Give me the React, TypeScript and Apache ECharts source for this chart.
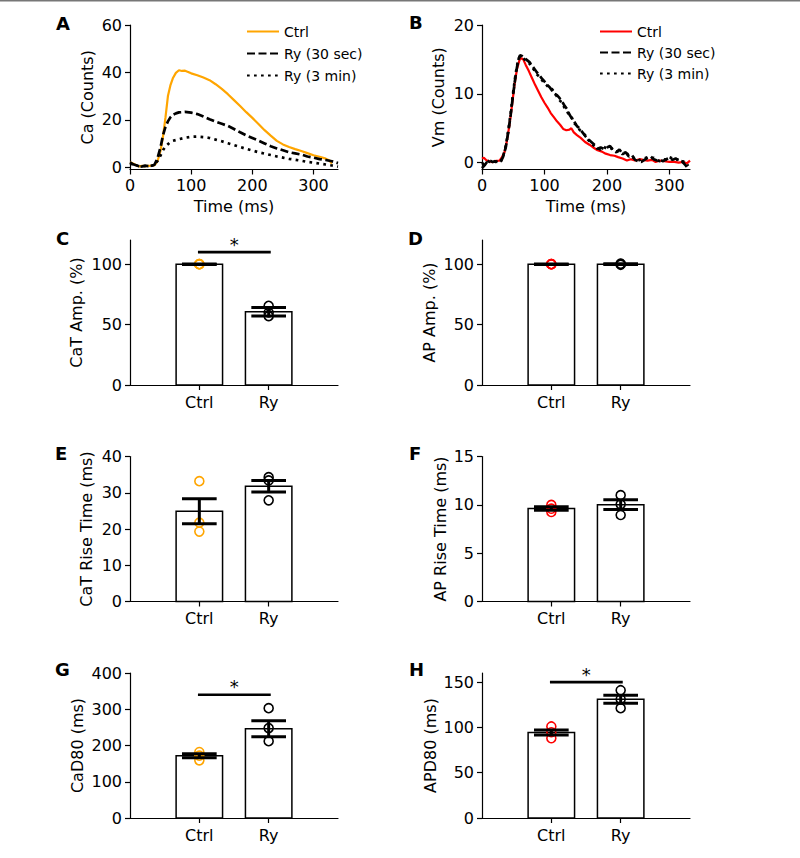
import React, { useEffect, useRef } from 'react';
import * as echarts from 'echarts';

const FONT = 'DejaVu Sans';
const ORANGE = '#FFA500';
const RED = '#FF0000';

// ---------- Trace data (time ms, counts) ----------
const traceTicks = [0, 100, 200, 300];
const caYTicks = [0, 20, 40, 60];
const vmYTicks = [0, 10, 20];

const caCtrl = [[0,2.0],[5,1.5],[10,0.8],[15,0.3],[20,0.5],[25,0.4],[30,0.5],[35,0.6],[40,0.8],[45,2.5],[50,7],[54,13],[58,21],[62,30],[66,34.5],[70,37.5],[75,39.8],[80,40.9],[85,40.6],[90,40.7],[95,40.2],[100,39.6],[110,38.8],[120,37.8],[130,36.7],[140,35],[150,33],[160,30.8],[170,28.3],[180,25.8],[190,23.2],[200,20.8],[210,18.2],[220,15.6],[230,13.3],[240,11.1],[250,9.6],[260,8.5],[270,7.6],[280,6.8],[290,5.9],[300,5.0],[310,4.4],[320,3.6],[326,2.8],[330,1.5]];
const caRy30 = [[0,2.0],[5,1.2],[10,0.8],[15,0.2],[20,0.3],[25,0.6],[30,0.4],[35,0.5],[40,1.0],[45,3.8],[50,8.5],[54,13.5],[58,17],[62,19.3],[66,21],[70,22.1],[75,22.7],[80,23.1],[90,23.3],[100,23],[110,22.4],[120,21.4],[130,20.2],[140,19.2],[150,18.3],[160,17.4],[170,16.1],[180,14.7],[190,13.4],[200,12.3],[210,11.2],[220,10],[230,8.8],[240,7.9],[250,7.1],[260,6.3],[270,5.8],[280,5.3],[290,4.5],[300,4.0],[310,3.4],[320,3.0],[330,2.5],[340,1.7]];
const caRy3 = [[0,1.5],[5,1.2],[10,0.8],[15,0.4],[20,0.3],[25,0.5],[30,0.4],[35,0.6],[40,1.0],[45,2.6],[50,5],[55,7.6],[60,9.2],[65,10.4],[70,11.1],[80,11.8],[90,12.4],[100,12.8],[110,12.9],[120,12.7],[130,12.3],[140,11.6],[150,10.9],[160,10.1],[170,9.3],[180,8.5],[190,7.7],[200,7.0],[210,6.3],[220,5.7],[230,5.1],[240,4.5],[250,4.0],[260,3.5],[270,3.1],[280,2.7],[290,2.2],[300,1.9],[310,1.5],[320,1.1],[330,0.7],[340,0.2]];

const vmCtrl = [[0,0.6],[3,0.7],[7,0.35],[12,0.2],[17,0.05],[22,0.25],[28,0.3],[32,0.8],[36,1.5],[40,3.2],[44,5.5],[48,8.3],[52,11.3],[56,13.6],[60,14.9],[63,15.2],[66,15.0],[70,14.2],[75,13.3],[80,12.3],[85,11.3],[90,10.4],[95,9.5],[100,8.7],[105,8.0],[110,7.2],[115,6.6],[120,6.0],[125,5.5],[130,4.9],[135,4.7],[140,4.8],[143,5.0],[147,4.4],[152,4.0],[158,3.6],[165,3.0],[172,2.6],[178,2.2],[185,1.8],[192,1.6],[198,1.3],[205,1.1],[212,1.0],[218,0.8],[225,0.6],[232,0.3],[238,0.5],[245,0.3],[252,0.5],[258,0.4],[265,0.3],[272,0.4],[278,0.1],[285,0.3],[292,0.2],[300,0.1],[308,0.1],[315,0.0],[322,0.1],[328,-0.1],[333,0.3]];
const vmRy30 = [[0,-0.8],[4,-0.4],[8,0.1],[12,0.3],[17,0.1],[22,0.2],[27,0.0],[30,0.1],[34,0.9],[38,2.2],[42,4.4],[46,7.0],[50,10.0],[54,12.8],[58,14.9],[61,15.6],[64,15.5],[68,15.2],[72,14.9],[76,14.6],[80,14.1],[84,13.6],[88,13.1],[92,12.7],[96,12.2],[100,11.8],[104,11.3],[108,11.0],[112,10.5],[116,10.0],[120,9.8],[124,9.4],[128,8.9],[132,8.3],[136,7.8],[140,7.0],[144,6.4],[148,5.9],[152,5.3],[156,5.0],[160,4.5],[165,3.9],[170,3.4],[175,3.0],[180,2.6],[185,2.0],[190,2.2],[195,2.0],[200,2.2],[205,2.4],[210,1.8],[215,1.5],[220,1.9],[225,1.3],[230,1.5],[235,0.9],[240,1.1],[245,0.4],[250,0.2],[255,0.1],[260,0.4],[265,0.7],[270,0.9],[275,0.5],[280,0.3],[285,0.4],[290,0.2],[295,0.5],[300,0.7],[305,0.4],[310,0.6],[315,0.3],[320,0.2],[325,-0.3],[330,-0.8]];
const vmRy3 = [[0,-0.3],[4,0.0],[8,0.3],[12,0.1],[17,0.3],[22,0.1],[27,0.1],[30,0.2],[34,1.0],[38,2.4],[42,4.6],[46,7.3],[50,10.3],[54,13.0],[58,15.0],[61,15.5],[64,15.3],[68,15.0],[72,14.6],[76,14.4],[80,13.9],[84,13.4],[88,12.8],[92,12.5],[96,12.0],[100,11.5],[104,11.2],[108,10.8],[112,10.7],[116,10.2],[120,9.6],[124,9.1],[128,8.7],[132,8.0],[136,7.5],[140,6.8],[144,6.5],[148,5.7],[152,5.4],[156,4.8],[160,4.4],[165,4.0],[170,3.3],[175,2.8],[180,2.4],[185,2.1],[190,1.9],[195,2.3],[200,2.0],[205,2.1],[210,2.0],[215,1.6],[220,1.7],[225,1.2],[230,1.6],[235,1.0],[240,0.8],[245,0.6],[250,0.3],[255,0.5],[260,0.6],[265,0.8],[270,0.6],[275,0.7],[280,0.4],[285,0.2],[290,0.5],[295,0.4],[300,0.8],[305,0.6],[310,0.4],[315,0.5],[320,0.1],[325,0.2],[330,-0.5]];

// ---------- Bar panel data ----------
const groups = ['Ctrl', 'Ry'];

const caAmpMean = [100, 60.7];
const caAmpSem = [0.2, 3.5];
const caAmpCtrlPts = [100, 100, 100];
const caAmpRyPts = [65.5, 60, 57];

const apAmpMean = [100, 100];
const apAmpSem = [0.2, 0.3];
const apAmpCtrlPts = [100, 100, 100];
const apAmpRyPts = [99.5, 100, 100.4];

const caRiseMean = [24.9, 31.8];
const caRiseSem = [3.45, 1.6];
const caRiseCtrlPts = [33.2, 21.75, 19.3];
const caRiseRyPts = [34.3, 33.4, 27.9];

const apRiseMean = [9.62, 10.02];
const apRiseSem = [0.17, 0.5];
const apRiseCtrlPts = [9.99, 9.6, 9.26];
const apRiseRyPts = [11.0, 10.05, 8.95];

const cad80Mean = [172, 246];
const cad80Sem = [5.5, 22];
const cad80CtrlPts = [182, 172, 159];
const cad80RyPts = [303, 248, 212];

const apd80Mean = [94.3, 131];
const apd80Sem = [2.8, 4.4];
const apd80CtrlPts = [101, 94.6, 88];
const apd80RyPts = [141, 131, 121.2];

const sigC = 110;
const sigG = 340;
const sigH = 150;

const ampTicks = [0, 50, 100];
const caRiseTicks = [0, 10, 20, 30, 40];
const apRiseTicks = [0, 5, 10, 15];
const cad80Ticks = [0, 100, 200, 300, 400];
const apd80Ticks = [0, 50, 100, 150];

// ---------- Layout ----------
const LEFT_X = 130;
const RIGHT_X = 482;
const PW = 208;
const gridTops = [25, 25, 240, 240, 456.5, 456.5, 673, 673];
const gridHeights = [144.5, 144.5, 145, 145, 145, 145, 145, 145];
const BAR_W = 0.67;
const CAP_W = 0.5;

export default function App() {
  const ref = useRef<HTMLDivElement>(null);

  useEffect(() => {
    document.body.style.margin = '0';
    const chart = echarts.init(ref.current!, null, { renderer: 'svg' });

    const grids = gridTops.map((top, i) => ({
      left: i % 2 === 0 ? LEFT_X : RIGHT_X,
      top,
      width: PW,
      height: gridHeights[i],
      outerBoundsMode: 'none',
      containLabel: false,
    }));

    const axisBase = {
      axisLine: { show: true, onZero: false, lineStyle: { color: '#000', width: 1.2 } },
      splitLine: { show: false },
      nameTextStyle: { color: '#000', fontSize: 16, fontFamily: FONT },
    };
    const tick = (vals: number[]) => ({ show: true, length: 5, customValues: vals, lineStyle: { color: '#000', width: 1.2 } });
    const label = (vals: number[], margin: number, fmt?: (v: number) => string) => ({
      show: true, customValues: vals, color: '#000', fontSize: 16, fontFamily: FONT, margin,
      ...(fmt ? { formatter: fmt } : {}),
    });

    const catFmt = (v: number) => groups[Math.round(v)] ?? '';

    const xAxes: any[] = [];
    const yAxes: any[] = [];

    // A
    xAxes.push({ ...axisBase, type: 'value', gridIndex: 0, min: 0, max: 340, axisTick: tick(traceTicks), axisLabel: label(traceTicks, 8), name: 'Time (ms)', nameLocation: 'middle', nameGap: 29 });
    yAxes.push({ ...axisBase, type: 'value', gridIndex: 0, min: -1, max: 60, axisTick: tick(caYTicks), axisLabel: label(caYTicks, 8), name: 'Ca (Counts)', nameLocation: 'middle', nameRotate: 90, nameGap: 35 });
    // B
    xAxes.push({ ...axisBase, type: 'value', gridIndex: 1, min: 0, max: 333, axisTick: tick(traceTicks), axisLabel: label(traceTicks, 8), name: 'Time (ms)', nameLocation: 'middle', nameGap: 29 });
    yAxes.push({ ...axisBase, type: 'value', gridIndex: 1, min: -1, max: 20, axisTick: tick(vmYTicks), axisLabel: label(vmYTicks, 8), name: 'Vm (Counts)', nameLocation: 'middle', nameRotate: 90, nameGap: 36 });

    const barPanels = [
      { mean: caAmpMean, sem: caAmpSem, ctrl: caAmpCtrlPts, ry: caAmpRyPts, color: ORANGE, max: 120, ticks: ampTicks, name: 'CaT Amp. (%)', gap: 46, sig: sigC },
      { mean: apAmpMean, sem: apAmpSem, ctrl: apAmpCtrlPts, ry: apAmpRyPts, color: RED, max: 120, ticks: ampTicks, name: 'AP Amp. (%)', gap: 45, sig: null },
      { mean: caRiseMean, sem: caRiseSem, ctrl: caRiseCtrlPts, ry: caRiseRyPts, color: ORANGE, max: 40, ticks: caRiseTicks, name: 'CaT Rise Time (ms)', gap: 36, sig: null },
      { mean: apRiseMean, sem: apRiseSem, ctrl: apRiseCtrlPts, ry: apRiseRyPts, color: RED, max: 15, ticks: apRiseTicks, name: 'AP Rise Time (ms)', gap: 34, sig: null },
      { mean: cad80Mean, sem: cad80Sem, ctrl: cad80CtrlPts, ry: cad80RyPts, color: ORANGE, max: 400, ticks: cad80Ticks, name: 'CaD80 (ms)', gap: 45, sig: sigG },
      { mean: apd80Mean, sem: apd80Sem, ctrl: apd80CtrlPts, ry: apd80RyPts, color: RED, max: 160, ticks: apd80Ticks, name: 'APD80 (ms)', gap: 44, sig: sigH },
    ];

    const series: any[] = [];

    const lineS = (name: string, idx: number, data: number[][], color: string, width: number, type: any) => ({
      type: 'line', name, xAxisIndex: idx, yAxisIndex: idx, data, showSymbol: false, symbol: 'none',
      color, itemStyle: { color }, lineStyle: { color, width, type, cap: 'butt' }, z: 2, silent: true,
    });
    const DASH = [8, 3.5];
    const DOT = [2.7, 4.3];
    series.push(lineS('Ctrl', 0, caCtrl, ORANGE, 2.2, 'solid'));
    series.push(lineS('Ry (30 sec)', 0, caRy30, '#000', 2.7, DASH));
    series.push(lineS('Ry (3 min)', 0, caRy3, '#000', 2.7, DOT));
    series.push(lineS('B Ctrl', 1, vmCtrl, RED, 2.2, 'solid'));
    series.push(lineS('B Ry (30 sec)', 1, vmRy30, '#000', 2.7, DASH));
    series.push(lineS('B Ry (3 min)', 1, vmRy3, '#000', 2.7, DOT));

    const barRender = (params: any, api: any) => {
      const x = api.value(0), y = api.value(1);
      const p0 = api.coord([x - BAR_W / 2, y]);
      const p1 = api.coord([x + BAR_W / 2, 0]);
      return { type: 'rect', shape: { x: p0[0], y: p0[1], width: p1[0] - p0[0], height: p1[1] - p0[1] }, style: { fill: '#fff', stroke: '#000', lineWidth: 1.5 } };
    };
    const errRender = (params: any, api: any) => {
      const x = api.value(0), lo = api.value(1), hi = api.value(2);
      const pLo = api.coord([x, lo]);
      const pHi = api.coord([x, hi]);
      const half = api.size([CAP_W / 2, 0])[0];
      const style = { stroke: '#000', lineWidth: 3 };
      return {
        type: 'group', children: [
          { type: 'line', shape: { x1: pLo[0], y1: pLo[1], x2: pHi[0], y2: pHi[1] }, style },
          { type: 'line', shape: { x1: pLo[0] - half, y1: pLo[1], x2: pLo[0] + half, y2: pLo[1] }, style },
          { type: 'line', shape: { x1: pHi[0] - half, y1: pHi[1], x2: pHi[0] + half, y2: pHi[1] }, style },
        ],
      };
    };
    const sigRender = (params: any, api: any) => {
      const a = api.coord([api.value(0), api.value(2)]);
      const b = api.coord([api.value(1), api.value(2)]);
      return {
        type: 'group', children: [
          { type: 'line', shape: { x1: a[0], y1: a[1], x2: b[0], y2: b[1] }, style: { stroke: '#000', lineWidth: 2.7 } },
          { type: 'text', x: (a[0] + b[0]) / 2, y: a[1] + 1, style: { text: '*', fontSize: 18, fontFamily: FONT, fill: '#000', align: 'center', verticalAlign: 'bottom' } },
        ],
      };
    };

    barPanels.forEach((p, k) => {
      const idx = k + 2;
      xAxes.push({ ...axisBase, type: 'value', gridIndex: idx, min: -1, max: 2, axisTick: tick([0, 1]), axisLabel: label([0, 1], 9, catFmt) });
      yAxes.push({ ...axisBase, type: 'value', gridIndex: idx, min: 0, max: p.max, axisTick: tick(p.ticks), axisLabel: label(p.ticks, 8), name: p.name, nameLocation: 'middle', nameRotate: 90, nameGap: p.gap });
      series.push({
        type: 'custom', name: `bars${idx}`, xAxisIndex: idx, yAxisIndex: idx, renderItem: barRender,
        data: p.mean.map((m, i) => [i, m]), encode: { x: 0, y: 1 }, z: 1, silent: true,
      });
      series.push({
        type: 'scatter', name: `ctrlPts${idx}`, xAxisIndex: idx, yAxisIndex: idx, symbol: 'circle', symbolSize: 9,
        data: p.ctrl.map((v) => [0, v]), itemStyle: { color: 'rgba(0,0,0,0)', borderColor: p.color, borderWidth: 1.6, opacity: 1 }, z: 3, silent: true,
      });
      series.push({
        type: 'scatter', name: `ryPts${idx}`, xAxisIndex: idx, yAxisIndex: idx, symbol: 'circle', symbolSize: 9,
        data: p.ry.map((v) => [1, v]), itemStyle: { color: 'rgba(0,0,0,0)', borderColor: '#000', borderWidth: 1.6, opacity: 1 }, z: 3, silent: true,
      });
      series.push({
        type: 'custom', name: `err${idx}`, xAxisIndex: idx, yAxisIndex: idx, renderItem: errRender,
        data: p.mean.map((m, i) => [i, m - p.sem[i], m + p.sem[i]]), encode: { x: 0, y: [1, 2] }, z: 4, silent: true,
      });
      if (p.sig !== null) {
        series.push({
          type: 'custom', name: `sig${idx}`, xAxisIndex: idx, yAxisIndex: idx, renderItem: sigRender, clip: false,
          data: [[-0.02, 1.03, p.sig]], encode: { x: [0, 1], y: 2 }, z: 4, silent: true,
        });
      }
    });

    const letters = [
      ['A', 56, 14], ['B', 409, 13], ['C', 56, 229], ['D', 408, 229],
      ['E', 55, 444], ['F', 409, 444], ['G', 55, 660], ['H', 409, 660],
    ];

    const legendText = { fontSize: 14, fontFamily: FONT, color: '#000' };
    const legendItem = { opacity: 0, color: 'rgba(0,0,0,0)', borderWidth: 0 };

    chart.setOption({
      animation: false,
      backgroundColor: '#fff',
      grid: grids,
      xAxis: xAxes,
      yAxis: yAxes,
      legend: [
        {
          left: 241, top: 19.5, orient: 'vertical', itemWidth: 32, itemHeight: 14, itemGap: 8,
          selectedMode: false, data: ['Ctrl', 'Ry (30 sec)', 'Ry (3 min)'], textStyle: legendText,
          itemStyle: legendItem,
        },
        {
          left: 594, top: 19.5, orient: 'vertical', itemWidth: 32, itemHeight: 14, itemGap: 7,
          selectedMode: false, data: ['B Ctrl', 'B Ry (30 sec)', 'B Ry (3 min)'], textStyle: legendText,
          itemStyle: legendItem,
          formatter: (n: string) => n.replace(/^B /, ''),
        },
      ],
      graphic: [
        { type: 'rect', shape: { x: 0, y: 0, width: 800, height: 1.5 }, style: { fill: '#777' }, silent: true },
        ...letters.map(([t, x, y]) => ({
          type: 'text', x, y, style: { text: t, fontSize: 18, fontWeight: 'bold', fontFamily: FONT, fill: '#000' }, silent: true,
        })),
      ],
      series,
    });

    return () => chart.dispose();
  }, []);

  return <div ref={ref} style={{ position: 'absolute', left: 0, top: 0, width: 800, height: 858 }} />;
}
